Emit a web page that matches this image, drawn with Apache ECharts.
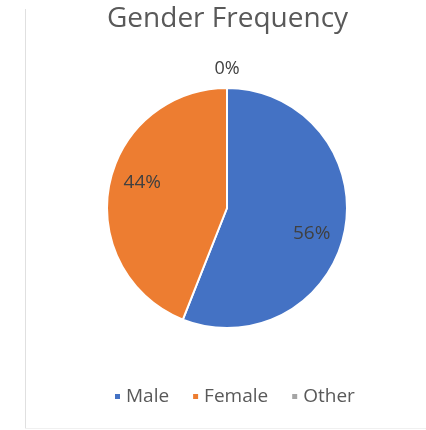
<!DOCTYPE html>
<html>
<head>
<meta charset="utf-8">
<script src="https://cdn.jsdelivr.net/npm/echarts@6/dist/echarts.min.js"></script>
<style>
html,body{margin:0;padding:0;background:#fff;}
#chart{width:426px;height:430px;}
</style>
</head>
<body>
<div id="chart"></div>
<script>
var titleText = 'Gender Frequency';
var categories = ['Male', 'Female', 'Other'];
var values = [56, 44, 0];
var colors = ['#4472C4', '#ED7D31', '#A5A5A5'];

var chart = echarts.init(document.getElementById('chart'));
var data = categories.map(function (c, i) {
  return { name: c, value: values[i], itemStyle: { color: colors[i] } };
});
var transparentData = categories.map(function (c, i) {
  return { name: c, value: values[i], itemStyle: { color: 'rgba(0,0,0,0)' } };
});
var center = [227, 208];
var R = 120;
var font = '"Open Sans", "Noto Sans", sans-serif';

chart.setOption({
  backgroundColor: '#fff',
  animation: false,
  title: {
    text: titleText,
    left: 102,
    top: 0,
    textStyle: { fontFamily: font, fontSize: 28, fontWeight: 'normal', color: '#595959' }
  },
  legend: {
    data: categories,
    top: 382,
    left: 108,
    icon: 'rect',
    itemWidth: 7,
    itemHeight: 7,
    itemGap: 22,
    textStyle: { fontFamily: font, fontSize: 19, color: '#595959' }
  },
  graphic: [
    { type: 'line', shape: { x1: 25.5, y1: 9, x2: 25.5, y2: 428 }, style: { stroke: '#e0e0e0', lineWidth: 1 } },
    { type: 'line', shape: { x1: 25, y1: 428.5, x2: 426, y2: 428.5 }, style: { stroke: '#f0f0f0', lineWidth: 1 } }
  ],
  series: [
    {
      name: 'main',
      type: 'pie',
      center: center,
      radius: R,
      startAngle: 90,
      clockwise: true,
      silent: true,
      label: { show: false },
      labelLine: { show: false },
      itemStyle: { borderColor: '#fff', borderWidth: 2 },
      data: data
    },
    {
      name: 'innerLabels',
      type: 'pie',
      center: center,
      radius: [51, R],
      startAngle: 84,
      silent: true,
      percentPrecision: 0,
      labelLine: { show: false },
      label: {
        show: true,
        position: 'inside',
        formatter: function (p) { return p.value > 0 ? p.percent + '%' : ''; },
        fontFamily: font,
        fontSize: 19,
        color: '#404040'
      },
      data: transparentData
    },
    {
      name: 'outerLabels',
      type: 'pie',
      center: center,
      radius: [R + 6, R + 26],
      startAngle: 90,
      silent: true,
      percentPrecision: 0,
      labelLine: { show: false },
      label: {
        show: true,
        position: 'inside',
        formatter: function (p) { return p.value === 0 ? p.percent + '%' : ''; },
        fontFamily: font,
        fontSize: 18,
        color: '#404040'
      },
      data: transparentData
    }
  ]
});
</script>
</body>
</html>
